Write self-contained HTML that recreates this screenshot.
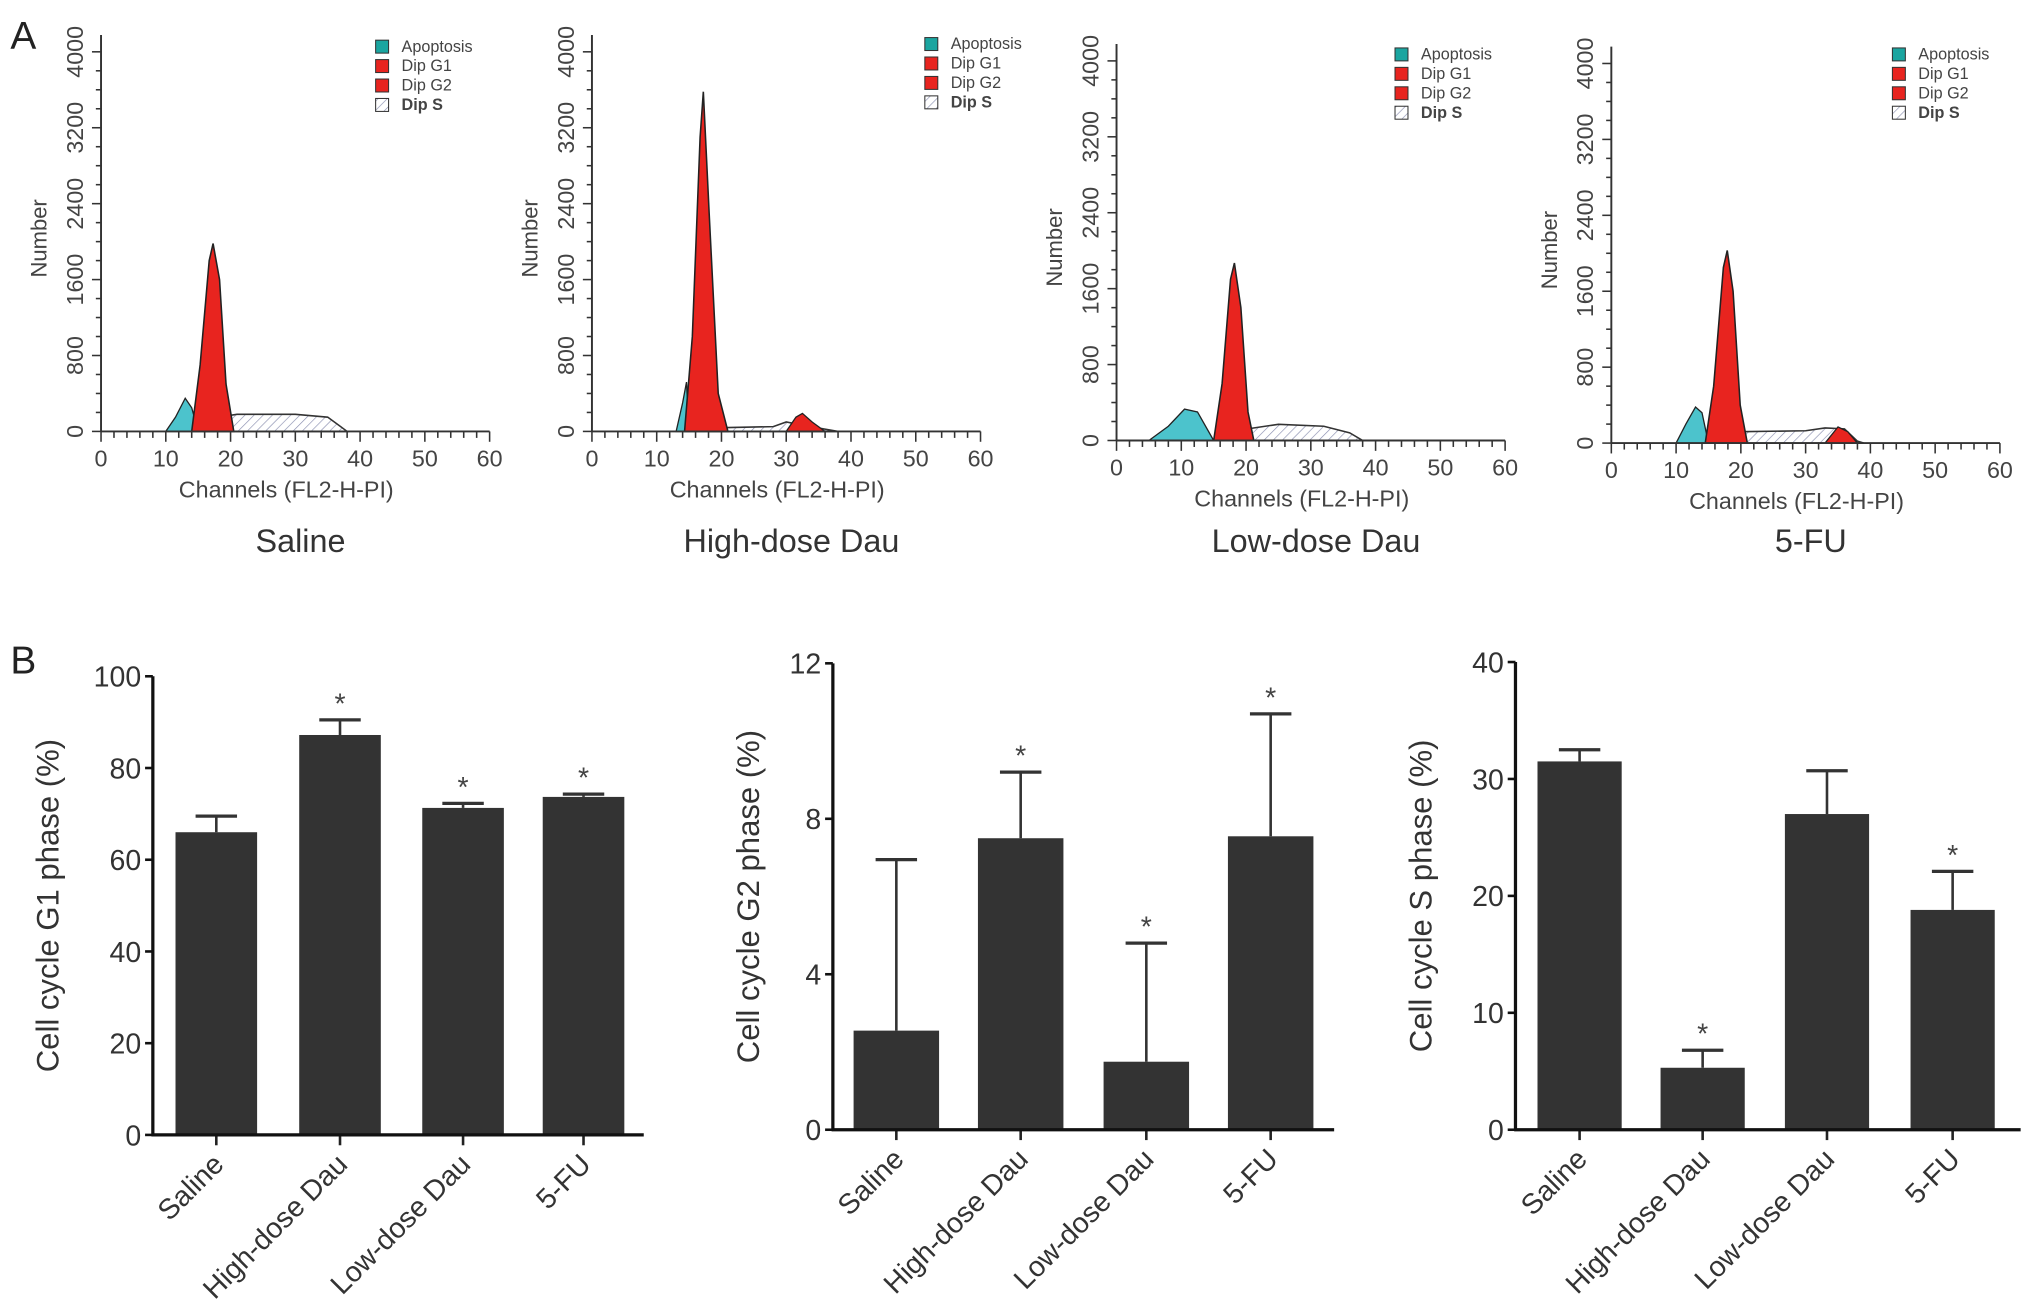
<!DOCTYPE html>
<html><head><meta charset="utf-8">
<style>
html,body{margin:0;padding:0;background:#fff;}
svg{display:block;font-family:"Liberation Sans",Arial,sans-serif;}
</style></head>
<body>
<svg id="fig" width="2031" height="1315" viewBox="0 0 1568 1015" preserveAspectRatio="none">
<defs>
<pattern id="hatch" width="5" height="5" patternUnits="userSpaceOnUse" patternTransform="rotate(45)">
<rect width="5" height="5" fill="#fff"/><line x1="0" y1="0" x2="0" y2="5" stroke="#8a8fb0" stroke-width="1"/>
</pattern>
</defs>
<text x="8" y="38" font-size="30" fill="#222">A</text>
<text x="8" y="520" font-size="30" fill="#222">B</text>
</svg>
<script>
// ---------- Panel A data (channel, count) ----------
const histTitles = ["Saline","High-dose Dau","Low-dose Dau","5-FU"];
const histXTicks = [0,10,20,30,40,50,60];
const histYTicks = [0,800,1600,2400,3200,4000];
const apopSaline = [[10,0],[11.5,150],[13,350],[14,250],[15,0]];
const g1Saline = [[14,0],[15.3,700],[16.7,1800],[17.3,1980],[18.3,1600],[19.3,500],[20.5,0]];
const g2Saline = [];
const sSaline = [[16,0],[18,150],[21,180],[30,180],[35,150],[37,50],[38,0]];
const apopHigh = [[13,0],[14,300],[14.6,520],[15,0]];
const g1High = [[14.3,0],[15.5,1000],[16.7,3100],[17.2,3580],[18.1,2300],[19.5,400],[21,0]];
const g2High = [[30,0],[31.5,150],[32.5,190],[34,100],[36,0]];
const sHigh = [[18,0],[20,40],[28,50],[30,100],[33,60],[38,0]];
const apopLow = [[5,0],[8,150],[10.5,330],[12.5,300],[15,0]];
const g1Low = [[15,0],[16.3,600],[17.6,1700],[18.2,1870],[19.2,1400],[20.3,300],[21.2,0]];
const g2Low = [];
const sLow = [[17,0],[20,120],[25,170],[32,150],[36,80],[38,0]];
const apopFU = [[10,0],[11.5,200],[13,380],[14,320],[15,0]];
const g1FU = [[14.5,0],[15.8,600],[17.3,1850],[17.9,2030],[18.8,1600],[19.9,400],[21,0]];
const g2FU = [[33,0],[35,170],[36.5,120],[38,0]];
const sFU = [[17,0],[20,120],[30,130],[33,160],[36,150],[38,20],[39,0]];
const legendLabels = ["Apoptosis","Dip G1","Dip G2","Dip S"];

// ---------- Panel B data ----------
const barCats = ["Saline","High-dose Dau","Low-dose Dau","5-FU"];
const g1Vals = [66,87.2,71.3,73.7];
const g1Errs = [69.5,90.5,72.3,74.3];
const g1Stars = [false,true,true,true];
const g1Ticks = [0,20,40,60,80,100];
const g2Vals = [2.55,7.5,1.75,7.55];
const g2Errs = [6.95,9.2,4.8,10.7];
const g2Stars = [false,true,true,true];
const g2Ticks = [0,4,8,12];
const sVals = [31.5,5.3,27,18.8];
const sErrs = [32.5,6.8,30.7,22.1];
const sStars = [false,true,false,true];
const sTicks = [0,10,20,30,40];

const NS="http://www.w3.org/2000/svg";
const svg=document.getElementById('fig');
function mk(tag,attrs,parent){const e=document.createElementNS(NS,tag);for(const k in attrs)e.setAttribute(k,attrs[k]);(parent||svg).appendChild(e);return e;}

const histLayouts=[
 {x0:78,x1:378,y0:333,ytop:27,leg:[290,41]},
 {x0:457,x1:757,y0:333,ytop:27,leg:[714,39]},
 {x0:862,x1:1162,y0:340,ytop:34,leg:[1077,47]},
 {x0:1244,x1:1544,y0:342,ytop:36,leg:[1461,47]}];
const histData=[[apopSaline,g1Saline,g2Saline,sSaline],[apopHigh,g1High,g2High,sHigh],[apopLow,g1Low,g2Low,sLow],[apopFU,g1FU,g2FU,sFU]];

histLayouts.forEach((L,i)=>{
 const g=mk('g',{});
 
 
 const xs=v=>L.x0+(v/60)*(L.x1-L.x0);
 const ys=v=>L.y0-(v/4000)*(L.y0-L.ytop-13);
 const path=(pts)=>pts.map((p,j)=>(j?'L':'M')+xs(p[0]).toFixed(1)+' '+ys(p[1]).toFixed(1)).join(' ')+' Z';
 const [ap,g1,g2,s]=histData[i];
 if(s.length){const e=mk('path',{d:path(s),fill:'url(#hatch)',stroke:'#333','stroke-width':1.2},g);}
 if(ap.length){const e=mk('path',{d:path(ap),fill:'#4cc3cc',stroke:'#222','stroke-width':1},g);}
 if(g1.length){const e=mk('path',{d:path(g1),fill:'#e8241f',stroke:'#222','stroke-width':1.2},g);}
 if(g2.length){const e=mk('path',{d:path(g2),fill:'#e8241f',stroke:'#222','stroke-width':1},g);}
 mk('line',{x1:L.x0,y1:L.ytop,x2:L.x0,y2:L.y0,stroke:'#333','stroke-width':1.5},g);
 mk('line',{x1:L.x0,y1:L.y0,x2:L.x1,y2:L.y0,stroke:'#333','stroke-width':1.5},g);
 for(let v=0;v<=60;v+=2){const M=v%10===0;mk('line',{x1:xs(v),y1:L.y0,x2:xs(v),y2:L.y0+(M?8:5),stroke:'#333','stroke-width':1.2},g);}
 for(let v=0;v<=4000;v+=200){const M=v%800===0;mk('line',{x1:L.x0,y1:ys(v),x2:L.x0-(M?7:4),y2:ys(v),stroke:'#333','stroke-width':1.2},g);}
 histXTicks.forEach(v=>{const t=mk('text',{x:xs(v),y:L.y0+27,'font-size':18,'text-anchor':'middle',fill:'#444'},g);t.textContent=v;});
 histYTicks.forEach(v=>{const t=mk('text',{x:0,y:0,'font-size':18,'text-anchor':'middle',fill:'#444',transform:`translate(${L.x0-14},${ys(v)}) rotate(-90)`},g);t.textContent=v;});
 const xl=mk('text',{x:(L.x0+L.x1)/2-7,y:L.y0+51,'font-size':18,'text-anchor':'middle',fill:'#444'},g);xl.textContent='Channels (FL2-H-PI)';
 const yl=mk('text',{x:0,y:0,'font-size':17,'text-anchor':'middle',fill:'#444',transform:`translate(${L.x0-42},${(L.y0+L.ytop)/2+4}) rotate(-90)`},g);yl.textContent='Number';
 const tt=mk('text',{x:(L.x0+L.x1)/2+4,y:426,'font-size':25,'text-anchor':'middle',fill:'#333'},g);tt.textContent=histTitles[i];
 const fills=['#1aa5a0','#e8241f','#e8241f','url(#hatch)'];
 legendLabels.forEach((lab,k)=>{
  const yy=L.leg[1]+k*15;
  const r=mk('rect',{x:L.leg[0],y:yy-10,width:10,height:10,fill:fills[k],stroke:'#333','stroke-width':0.8},g);
  const t=mk('text',{x:L.leg[0]+20,y:yy-1,'font-size':12.5,fill:'#444','font-weight':k===3?'bold':'normal'},g);t.textContent=lab;
 });
});

const barLayouts=[
 {x0:118,x1:497,y0:876,ytop:522,max:100,vals:g1Vals,errs:g1Errs,stars:g1Stars,ticks:g1Ticks,title:'Cell cycle G1 phase (%)',tx:45,centers:[167,262.5,357.5,450.5],bw:63,name:'g1-chart'},
 {x0:643,x1:1030,y0:872,ytop:512,max:12,vals:g2Vals,errs:g2Errs,stars:g2Stars,ticks:g2Ticks,title:'Cell cycle G2 phase (%)',tx:586,centers:[692,788,885,981],bw:66,name:'g2-chart'},
 {x0:1170,x1:1560,y0:872,ytop:511,max:40,vals:sVals,errs:sErrs,stars:sStars,ticks:sTicks,title:'Cell cycle S phase (%)',tx:1105,centers:[1219.5,1314.5,1410.5,1507.5],bw:65,name:'s-chart'}];

barLayouts.forEach(B=>{
 const g=mk('g',{});
 
 
 const ys=v=>B.y0-(v/B.max)*(B.y0-B.ytop);
 B.vals.forEach((v,i)=>{
  const cx=B.centers[i];
  const eb=mk('line',{x1:cx,y1:ys(B.errs[i]),x2:cx,y2:ys(v),stroke:'#333','stroke-width':2},g);
  const cap=mk('line',{x1:cx-16,y1:ys(B.errs[i]),x2:cx+16,y2:ys(B.errs[i]),stroke:'#333','stroke-width':2.5},g);
  const r=mk('rect',{x:cx-B.bw/2,y:ys(v),width:B.bw,height:B.y0-ys(v),fill:'#333'},g);
  if(B.stars[i]){const s=mk('text',{x:cx,y:ys(B.errs[i])-5,'font-size':22,'text-anchor':'middle',fill:'#444'},g);s.textContent='*';}
  mk('line',{x1:cx,y1:B.y0,x2:cx,y2:B.y0+8,stroke:'#222','stroke-width':2},g);
  const t=mk('text',{x:0,y:0,'font-size':22,'text-anchor':'end',fill:'#333',transform:`translate(${cx+7},${B.y0+24}) rotate(-45)`},g);t.textContent=barCats[i];
 });
 mk('line',{x1:B.x0,y1:B.ytop,x2:B.x0,y2:B.y0+1,stroke:'#111','stroke-width':2.5},g);
 mk('line',{x1:B.x0-1,y1:B.y0,x2:B.x1,y2:B.y0,stroke:'#111','stroke-width':2.5},g);
 B.ticks.forEach(v=>{
  mk('line',{x1:B.x0-6,y1:ys(v),x2:B.x0,y2:ys(v),stroke:'#111','stroke-width':2},g);
  const t=mk('text',{x:B.x0-9,y:ys(v)+8,'font-size':22,'text-anchor':'end',fill:'#333'},g);t.textContent=v;
 });
 const yl=mk('text',{x:0,y:0,'font-size':24,'text-anchor':'middle',fill:'#333',transform:`translate(${B.tx},${(B.y0+B.ytop)/2}) rotate(-90)`},g);yl.textContent=B.title;
});
</script>
</body></html>
